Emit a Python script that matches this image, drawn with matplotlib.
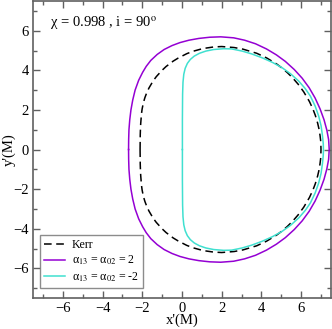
import numpy as np
import matplotlib
matplotlib.use("Agg")
import matplotlib.pyplot as plt
from matplotlib.ticker import MultipleLocator

# shadow contours (x', y' in units of M), closed loops
kerr_x = [-2.110, -2.102, -2.090, -2.078, -2.039, -2.008, -1.945, -1.868, -1.774, -1.661, -1.456, -1.294,
          -1.014, -0.803, -0.449, -0.188, 0.241, 0.552, 1.056, 1.605, 1.996, 2.620, 3.061, 3.760, 4.251,
          4.762, 5.025, 5.294, 5.567, 5.845, 6.128, 6.416, 6.591, 6.709, 6.828, 6.888, 6.947, 6.985, 6.996,
          6.985, 6.947, 6.888, 6.828, 6.709, 6.591, 6.416, 6.128, 5.845, 5.567, 5.294, 5.025, 4.762,
          4.251, 3.760, 3.061, 2.620, 1.996, 1.605, 1.056, 0.552, 0.241, -0.188, -0.449, -0.803, -1.014,
          -1.294, -1.456, -1.661, -1.774, -1.868, -1.945, -2.008, -2.039, -2.078, -2.090, -2.102, -2.110]
kerr_y = [0.00, 0.73, 1.10, 1.32, 1.81, 2.04, 2.36, 2.62, 2.87, 3.11, 3.46, 3.68,
          3.99, 4.19, 4.46, 4.62, 4.84, 4.96, 5.10, 5.18, 5.20, 5.15, 5.07, 4.86, 4.63,
          4.32, 4.12, 3.89, 3.62, 3.30, 2.91, 2.42, 2.04, 1.73, 1.33, 1.07, 0.72, 0.40, 0.00,
          -0.40, -0.72, -1.07, -1.33, -1.73, -2.04, -2.42, -2.91, -3.30, -3.62, -3.89, -4.12, -4.32,
          -4.63, -4.86, -5.07, -5.15, -5.20, -5.18, -5.10, -4.96, -4.84, -4.62, -4.46, -4.19, -3.99,
          -3.68, -3.46, -3.11, -2.87, -2.62, -2.36, -2.04, -1.81, -1.32, -1.10, -0.73, 0.00]

pos_x = [-2.690, -2.685, -2.670, -2.630, -2.570, -2.480, -2.360, -2.180, -1.980, -1.800, -1.570, -1.250,
         -0.900, -0.500, -0.100, 0.350, 0.850, 1.400, 1.950, 2.600, 3.150, 3.700, 4.250, 4.750, 5.200,
         5.650, 6.050, 6.400, 6.700, 6.950, 7.150, 7.290, 7.380, 7.410,
         7.380, 7.290, 7.150, 6.950, 6.700, 6.400, 6.050, 5.650, 5.200, 4.750, 4.250, 3.700, 3.150,
         2.600, 1.950, 1.400, 0.850, 0.350, -0.100, -0.500, -0.900, -1.250, -1.570, -1.800, -1.980,
         -2.180, -2.360, -2.480, -2.570, -2.630, -2.670, -2.685, -2.690]
pos_y = [0.00, 0.50, 1.00, 1.50, 2.00, 2.50, 3.00, 3.50, 3.90, 4.20, 4.50, 4.80,
         5.05, 5.25, 5.40, 5.52, 5.61, 5.67, 5.69, 5.64, 5.52, 5.34, 5.08, 4.78, 4.45,
         4.04, 3.60, 3.12, 2.60, 2.05, 1.50, 0.98, 0.50, 0.00,
         -0.50, -0.98, -1.50, -2.05, -2.60, -3.12, -3.60, -4.04, -4.45, -4.78, -5.08, -5.34, -5.52,
         -5.64, -5.69, -5.67, -5.61, -5.52, -5.40, -5.25, -5.05, -4.80, -4.50, -4.20, -3.90,
         -3.50, -3.00, -2.50, -2.00, -1.50, -1.00, -0.50, 0.00]

neg_x = [0.02, 0.02, 0.03, 0.05, 0.09, 0.16, 0.27, 0.42, 0.62, 0.88, 1.20, 1.60, 2.10, 2.50,
         3.03, 3.50, 4.04, 4.55, 5.04, 5.47, 5.88, 6.20, 6.46, 6.70, 6.88, 7.00, 7.07, 7.11, 7.12,
         7.11, 7.07, 7.00, 6.88, 6.70, 6.46, 6.20, 5.88, 5.47, 5.04, 4.55, 4.04, 3.50, 3.03,
         2.50, 2.10, 1.60, 1.20, 0.88, 0.62, 0.42, 0.27, 0.16, 0.09, 0.05, 0.03, 0.02, 0.02]
neg_y = [0.00, 1.50, 2.80, 3.40, 3.80, 4.10, 4.35, 4.55, 4.72, 4.86, 4.97, 5.05, 5.09, 5.08,
         4.97, 4.83, 4.63, 4.40, 4.13, 3.82, 3.45, 3.08, 2.70, 2.20, 1.69, 1.20, 0.70, 0.30, 0.00,
         -0.30, -0.70, -1.20, -1.69, -2.20, -2.70, -3.08, -3.45, -3.82, -4.13, -4.40, -4.63, -4.83, -4.97,
         -5.08, -5.09, -5.05, -4.97, -4.86, -4.72, -4.55, -4.35, -4.10, -3.80, -3.40, -2.80, -1.50, 0.00]

plt.rcParams['font.family'] = 'serif'
plt.rcParams['font.serif'] = ['Liberation Serif', 'DejaVu Serif']
plt.rcParams['mathtext.fontset'] = 'stix'

fig = plt.figure(figsize=(3.32, 3.29), dpi=100)
ax = fig.add_axes([0.0994, 0.094, 0.8976, 0.903])

ax.plot(kerr_x, kerr_y, color='black', lw=1.1, ls=(0, (5, 3)), label='Kerr')
ax.plot(pos_x, pos_y, color='#9400D3', lw=1.1, label=r'α$_{13}$ = α$_{02}$ = 2')
ax.plot(neg_x, neg_y, color='#40E0D0', lw=1.1, label=r'α$_{13}$ = α$_{02}$ = -2')

ax.set_xlim(-7.5, 7.5)
ax.set_ylim(-7.5, 7.5)
ax.xaxis.set_major_locator(MultipleLocator(2))
ax.xaxis.set_minor_locator(MultipleLocator(1))
ax.yaxis.set_major_locator(MultipleLocator(2))
ax.yaxis.set_minor_locator(MultipleLocator(1))
ax.tick_params(which='both', direction='in', top=True, right=True, color='#606060', labelsize=10.5, pad=3)
ax.tick_params(which='major', length=5, width=1)
ax.tick_params(which='minor', length=3, width=1)
for s in ax.spines.values():
    s.set_color('#606060')
    s.set_linewidth(1.2)

ax.set_xlabel("x'(M)", fontsize=10.5, labelpad=-1)
ax.set_ylabel("y'(M)", fontsize=10.5, labelpad=-2)

ax.text(-6.65, 6.4, r'χ = 0.998 , i = 90$^{\mathrm{o}}$', fontsize=10.5, va='center', ha='left')

leg = ax.legend(loc='lower left', bbox_to_anchor=(0.023, 0.034), fontsize=8.6, frameon=True, fancybox=False,
                handlelength=1.75, handletextpad=0.6, borderpad=0.35, labelspacing=0.25, borderaxespad=0)
leg.get_frame().set_edgecolor('#707070')
leg.get_frame().set_linewidth(1.0)

fig.savefig('out.png', dpi=100)
